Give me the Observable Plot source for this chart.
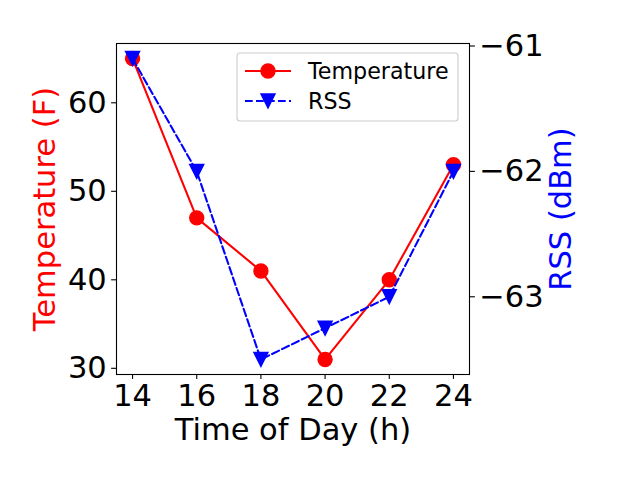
<!DOCTYPE html>
<html><head><meta charset="utf-8">
<script src="https://cdn.jsdelivr.net/npm/d3@7"></script>
<script src="https://cdn.jsdelivr.net/npm/@observablehq/plot@0.6"></script>
<style>body{margin:0;background:#fff}</style>
</head><body><div id="chart"></div>
<script>
const hours = [14, 16, 18, 20, 22, 24];
const temperature = [65, 47, 41, 31, 40, 53];
const rss = [-61.1, -62, -63.5, -63.25, -63, -62];
const xTicks = [14, 16, 18, 20, 22, 24];
const tempTicks = [30, 40, 50, 60];
const rssTicks = [-63, -62, -61];
const seriesNames = ["Temperature", "RSS"];

function padDomain(vals) {
  const lo = d3.min(vals), hi = d3.max(vals), m = (hi - lo) * 0.05;
  return [lo - m, hi + m];
}
const xDom = padDomain(hours);
const tDom = padDomain(temperature);
const rDom = padDomain(rss);
const toT = r => tDom[0] + (r - rDom[0]) / (rDom[1] - rDom[0]) * (tDom[1] - tDom[0]);
const toR = t => rDom[0] + (t - tDom[0]) / (tDom[1] - tDom[0]) * (rDom[1] - rDom[0]);

const tempData = hours.map((h, i) => ({h, v: temperature[i]}));
const rssData = hours.map((h, i) => ({h, v: toT(rss[i])}));

const triDown = {draw(ctx, size) {
  const s = Math.sqrt(size / Math.PI);
  ctx.moveTo(-s, -s); ctx.lineTo(s, -s); ctx.lineTo(0, s); ctx.closePath();
}};

const FS = 30.5, LFS = 22.2, LW = 2.08, MR = 7;
const fmtR = d => { const v = Math.round(toR(d)); return (v < 0 ? "\u2212" : "") + Math.abs(v); };

const chart = Plot.plot({
  width: 640, height: 480,
  marginLeft: 116, marginRight: 171, marginTop: 43, marginBottom: 106,
  style: {fontFamily: "DejaVu Sans", color: "black", background: "white"},
  x: {domain: xDom},
  y: {domain: tDom},
  marks: [
    Plot.axisX(xTicks, {fontSize: FS, tickSize: 4.9, tickPadding: 4.9, strokeWidth: 1.1, label: null}),
    Plot.axisY(tempTicks, {anchor: "left", fontSize: FS, tickSize: 4.9, tickPadding: 4.9, strokeWidth: 1.1, label: null}),
    Plot.axisY(rssTicks.map(toT), {anchor: "right", fontSize: FS, tickSize: 4.9, tickPadding: 4.9, strokeWidth: 1.1, tickFormat: fmtR, label: null}),
    Plot.line(tempData, {x: "h", y: "v", stroke: "red", strokeWidth: LW}),
    Plot.dot(tempData, {x: "h", y: "v", r: MR, fill: "red", stroke: "red", strokeWidth: 1.4, symbol: "circle"}),
    Plot.line(rssData, {x: "h", y: "v", stroke: "blue", strokeWidth: LW, strokeDasharray: "7.7,3.3"}),
    Plot.dot(rssData, {x: "h", y: "v", r: MR, fill: "blue", stroke: "blue", strokeWidth: 1.4, symbol: triDown}),
    Plot.frame({stroke: "black", strokeWidth: 1.1}),
    Plot.text(["Time of Day (h)"], {frameAnchor: "bottom", dy: 56, textAnchor: "middle", lineAnchor: "middle", fontSize: FS, fill: "black"}),
    Plot.text(["Temperature (F)"], {frameAnchor: "left", dx: -71, rotate: -90, textAnchor: "middle", lineAnchor: "middle", fontSize: FS, fill: "red"}),
    Plot.text(["RSS (dBm)"], {frameAnchor: "right", dx: 92, rotate: -90, textAnchor: "middle", lineAnchor: "middle", fontSize: FS, fill: "blue"})
  ]
});
document.getElementById("chart").appendChild(chart);

// legend
const svg = d3.select(chart);
const lg = svg.append("g").attr("text-anchor", "start");
lg.append("rect").attr("x", 237).attr("y", 53).attr("width", 221).attr("height", 68)
  .attr("rx", 3).attr("fill", "white").attr("fill-opacity", 0.8)
  .attr("stroke", "#cccccc").attr("stroke-width", 1.1);
const rows = [
  {name: seriesNames[0], color: "red", dash: null, sym: d3.symbolCircle},
  {name: seriesNames[1], color: "blue", dash: "7.7,3.3", sym: triDown}
];
rows.forEach((r, i) => {
  const y = 71 + i * 30;
  lg.append("line").attr("x1", 245).attr("x2", 291).attr("y1", y).attr("y2", y)
    .attr("stroke", r.color).attr("stroke-width", LW).attr("stroke-dasharray", r.dash);
  lg.append("path").attr("transform", `translate(268,${y})`)
    .attr("d", d3.symbol(r.sym, Math.PI * MR * MR)())
    .attr("fill", r.color).attr("stroke", r.color).attr("stroke-width", 1.4);
  lg.append("text").attr("x", 308).attr("y", y).attr("dy", "0.35em")
    .attr("text-anchor", "start")
    .attr("font-size", LFS).attr("font-family", "DejaVu Sans").attr("fill", "black").text(r.name);
});
</script>
</body></html>
